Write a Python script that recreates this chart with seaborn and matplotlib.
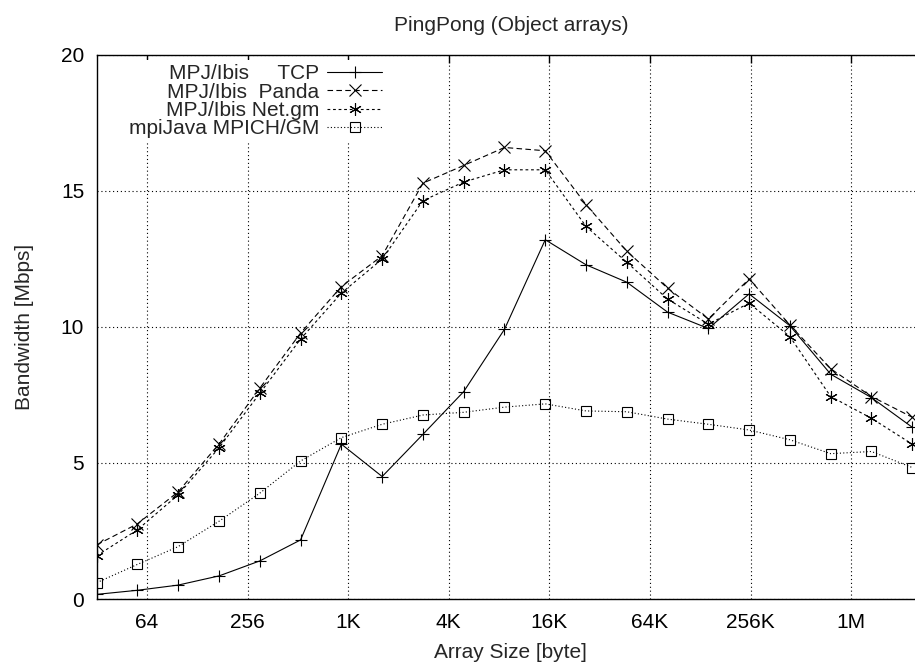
import numpy as np
import pandas as pd
import matplotlib
matplotlib.use("Agg")
import matplotlib.pyplot as plt
import seaborn as sns

# Array sizes (bytes) at which the measurements were taken
sizes = [32, 56, 98, 173, 303, 531, 932, 1635, 2868, 5030, 8823,
         15476, 27145, 47613, 83513, 146480, 256930, 450650, 790440,
         1386430, 2431800]

tcp = [0.17, 0.32, 0.51, 0.85, 1.40, 2.17, 5.69, 4.50, 6.05, 7.62, 9.91,
       13.20, 12.28, 11.64, 10.54, 9.94, 11.21, 10.04, 8.26, 7.40, 6.31]
panda = [1.99, 2.76, 3.93, 5.70, 7.75, 9.77, 11.48, 12.61, 15.28, 15.93, 16.59,
         16.47, 14.49, 12.78, 11.42, 10.29, 11.76, 10.07, 8.46, 7.44, 6.68]
netgm = [1.59, 2.54, 3.82, 5.56, 7.56, 9.55, 11.24, 12.49, 14.64, 15.32, 15.77,
         15.77, 13.69, 12.37, 11.02, 10.10, 10.87, 9.64, 7.44, 6.64, 5.69]
mpich = [0.60, 1.27, 1.92, 2.86, 3.89, 5.07, 5.93, 6.42, 6.76, 6.86, 7.05,
         7.17, 6.91, 6.88, 6.61, 6.42, 6.21, 5.85, 5.34, 5.42, 4.83]

labels = ["MPJ/Ibis     TCP", "MPJ/Ibis  Panda", "MPJ/Ibis Net.gm", "mpiJava MPICH/GM"]
series = [tcp, panda, netgm, mpich]

tick_vals = [64, 256, 1024, 4096, 16384, 65536, 262144, 1048576]
tick_labels = ["64", "256", "1K", "4K", "16K", "64K", "256K", "1M"]

sns.set_style("white")
plt.rcParams['font.family'] = ['Liberation Sans', 'DejaVu Sans']
FS = 15
plt.rcParams['font.size'] = FS

fig = plt.figure(figsize=(9.15, 6.66), dpi=100)
ax = fig.add_axes([0.1057, 0.1006, 0.9052, 0.8173])

styles = [
    dict(marker="+", linestyle="-", markersize=9),
    dict(marker="x", dashes=(5, 3), markersize=8),
    dict(marker=(6, 2, 0), dashes=(2.5, 2.5), markersize=9),
    dict(marker="s", dashes=(1, 2), markersize=7, markerfacecolor="none"),
]

for lab, vals, st in zip(labels, series, styles):
    df = pd.DataFrame({"size": sizes, "bw": vals})
    sns.lineplot(data=df, x="size", y="bw", ax=ax, color="black", lw=0.8,
                 markeredgecolor="black", markeredgewidth=0.8, label=lab, **st)

ax.set_xscale("log", base=2)
ax.set_xlim(32, 32 * 2 ** 16.467)
ax.set_ylim(0, 20)
ax.set_xticks(tick_vals)
ax.set_xticklabels(tick_labels)
ax.set_yticks([0, 5, 10, 15, 20])
ax.minorticks_off()
ax.tick_params(direction="in", length=6, width=1, top=True, right=True,
               labelsize=FS, colors="black")
ax.tick_params(axis="x", pad=10)
ax.tick_params(axis="y", pad=9)

ax.grid(True, color="black", linestyle=(0, (1, 2.5)), linewidth=0.8)
for sp in ax.spines.values():
    sp.set_visible(True)
    sp.set_color("black")
    sp.set_linewidth(1.0)

ax.set_title("PingPong (Object arrays)", fontsize=FS, pad=17)
ax.set_xlabel("Array Size [byte]", fontsize=FS, labelpad=8)
ax.set_ylabel("Bandwidth [Mbps]", fontsize=FS, labelpad=19)

leg = ax.legend(loc="upper right", bbox_to_anchor=(0.349, 0.99), markerfirst=False,
                frameon=True, fancybox=False, framealpha=1, facecolor="white",
                edgecolor="none", handlelength=2.6, handletextpad=0.4,
                labelspacing=-0.03, borderpad=0.2, borderaxespad=0, fontsize=FS)

fig.savefig("out.png", dpi=100)
